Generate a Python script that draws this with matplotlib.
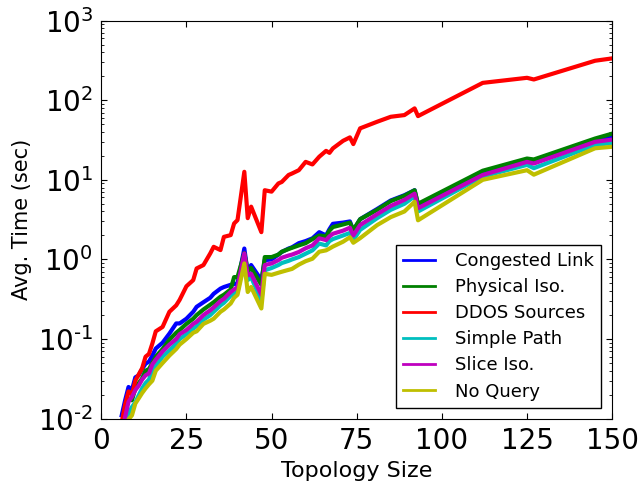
import numpy as np
import matplotlib
matplotlib.use("Agg")
import matplotlib.pyplot as plt
from matplotlib.ticker import FuncFormatter

# topology sizes (shared by all queries)
sizes = [6, 7, 8, 9, 10, 11, 12, 13, 14, 15, 16, 18, 20, 22, 23, 25, 27, 28, 30,
         32, 33, 35, 36, 38, 39, 40, 42, 43, 44, 47, 48, 50, 52, 53, 55, 56, 58,
         60, 62, 64, 66, 67, 68, 71, 73, 74, 76, 81, 85, 89, 92, 93, 112, 125,
         127, 145, 150]

congested_link = [0.011, 0.017, 0.025, 0.023, 0.033, 0.035, 0.042, 0.049, 0.052, 0.062,
                  0.076, 0.09, 0.117, 0.157, 0.157, 0.18, 0.22, 0.254, 0.29, 0.33,
                  0.37, 0.43, 0.45, 0.48, 0.49, 0.50, 1.37, 0.68, 0.85, 0.55, 0.98,
                  1.0, 1.15, 1.24, 1.37, 1.42, 1.6, 1.7, 1.84, 2.2, 2.0, 2.4, 2.8,
                  2.9, 3.0, 2.3, 3.2, 4.3, 5.5, 6.4, 7.4, 4.8, 12.6, 17.7, 16.8,
                  31.6, 35.5]

physical_iso = [0.008, 0.012, 0.018, 0.017, 0.024, 0.028, 0.032, 0.040, 0.042, 0.05,
                0.06, 0.075, 0.098, 0.12, 0.13, 0.155, 0.18, 0.2, 0.235, 0.27,
                0.29, 0.34, 0.36, 0.42, 0.6, 0.6, 1.2, 0.72, 0.78, 0.48, 1.07,
                1.07, 1.15, 1.25, 1.35, 1.4, 1.5, 1.6, 1.8, 2.0, 1.95, 2.3, 2.55,
                2.75, 2.9, 2.35, 3.2, 4.2, 5.4, 6.3, 7.4, 5.0, 13.0, 18.5, 18.0,
                33.0, 38.0]

ddos_sources = [0.009, 0.015, 0.022, 0.020, 0.030, 0.036, 0.043, 0.060, 0.065, 0.088,
                0.125, 0.142, 0.22, 0.265, 0.31, 0.46, 0.55, 0.77, 0.85, 1.19,
                1.44, 1.31, 1.92, 2.02, 2.83, 3.12, 12.6, 3.3, 4.6, 2.2, 7.4,
                7.1, 9.0, 9.4, 11.5, 12.0, 13.2, 16.8, 15.6, 19.5, 23.1, 21.8, 24.8,
                30.9, 34.1, 28.1, 44.3, 53.6, 61.9, 65.0, 78.9, 63.1, 165, 191, 182,
                313, 335]

simple_path = [0.005, 0.008, 0.0116, 0.014, 0.016, 0.0197, 0.024, 0.028, 0.031, 0.04,
               0.046, 0.06, 0.072, 0.087, 0.1, 0.115, 0.135, 0.145, 0.175, 0.2,
               0.22, 0.265, 0.285, 0.35, 0.37, 0.39, 1.0, 0.55, 0.6, 0.30, 0.73,
               0.78, 0.85, 0.9, 0.96, 1.0, 1.07, 1.18, 1.3, 1.58, 1.5, 1.7, 1.8,
               2.0, 2.15, 1.75, 2.35, 3.3, 4.2, 5.0, 6.2, 4.0, 11.0, 15.4, 14.0,
               27.4, 29.0]

slice_iso = [0.006, 0.0105, 0.0163, 0.0188, 0.0228, 0.026, 0.031, 0.035, 0.037, 0.048,
             0.055, 0.07, 0.085, 0.1, 0.115, 0.13, 0.155, 0.165, 0.2, 0.23,
             0.25, 0.3, 0.32, 0.39, 0.42, 0.45, 1.19, 0.63, 0.66, 0.36, 0.85,
             0.89, 0.98, 1.05, 1.12, 1.15, 1.24, 1.38, 1.5, 1.84, 1.75, 1.95, 2.1,
             2.3, 2.5, 2.0, 2.7, 3.7, 4.7, 5.6, 6.7, 4.4, 11.5, 16.8, 16.0,
             30.0, 32.0]

no_query = [0.003, 0.005, 0.0098, 0.011, 0.0155, 0.018, 0.021, 0.024, 0.027, 0.03,
            0.04, 0.05, 0.062, 0.075, 0.085, 0.1, 0.12, 0.125, 0.155, 0.17,
            0.18, 0.22, 0.235, 0.28, 0.33, 0.36, 0.89, 0.39, 0.45, 0.242, 0.66,
            0.64, 0.68, 0.7, 0.74, 0.76, 0.86, 0.95, 1.02, 1.25, 1.3, 1.37, 1.45,
            1.67, 1.9, 1.62, 1.85, 2.7, 3.4, 4.0, 5.3, 3.1, 10.0, 13.2, 11.6,
            24.9, 26.0]

series = [("Congested Link", congested_link, "b"),
          ("Physical Iso.", physical_iso, "g"),
          ("DDOS Sources", ddos_sources, "r"),
          ("Simple Path", simple_path, "c"),
          ("Slice Iso.", slice_iso, "m"),
          ("No Query", no_query, "y")]


def pow_label(v, pos):
    # old-style labels: plain hyphen in the exponent
    e = int(round(np.log10(v)))
    return r"$\mathdefault{10^{%s}}$" % str(e).replace("-", "\u2010")


fig = plt.figure(figsize=(6.41, 4.84), dpi=100)
ax = fig.add_axes([0.158, 0.135, 0.797, 0.8225])

for name, vals, col in series:
    ax.plot(sizes, vals, color=col, linewidth=3, label=name)

ax.set_yscale("log")
ax.set_xlim(0, 150)
ax.set_ylim(0.01, 1000)
ax.set_xticks([0, 25, 50, 75, 100, 125, 150])
ax.yaxis.set_major_formatter(FuncFormatter(pow_label))
ax.tick_params(axis="both", which="both", direction="in", top=True, right=True)
ax.tick_params(which="major", length=4, labelsize=20, pad=6)
ax.tick_params(which="minor", length=2)
ax.set_xlabel("Topology Size", fontsize=16)
ax.set_ylabel("Avg. Time (sec)", fontsize=15)

leg = ax.legend(loc="lower right", fontsize=13, fancybox=False, framealpha=1,
                edgecolor="black", handlelength=1.8, handletextpad=1.1,
                labelspacing=0.45, borderaxespad=0.6)
for line in leg.get_lines():
    line.set_linewidth(2)

fig.savefig("out.png", dpi=100, facecolor="white")
